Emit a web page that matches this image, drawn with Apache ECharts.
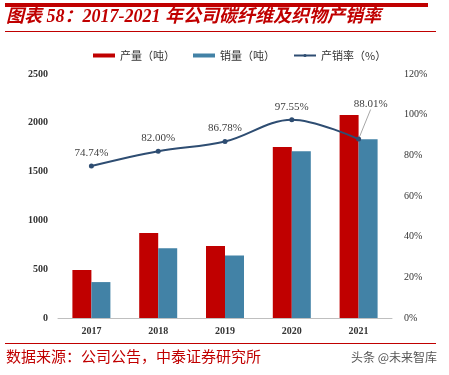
<!DOCTYPE html>
<html>
<head>
<meta charset="utf-8">
<script src="https://cdn.jsdelivr.net/npm/echarts@6/dist/echarts.min.js"></script>
<style>
  html, body { margin: 0; padding: 0; background: #fff; }
  #chart { width: 449px; height: 375px; }
</style>
</head>
<body>
<div id="chart"></div>
<script>
const years = ["2017", "2018", "2019", "2020", "2021"];
const output = [492, 870, 738, 1752, 2080];
const sales = [368, 714, 640, 1709, 1831];
const rate = [74.74, 82.0, 86.78, 97.55, 88.01];
const leftTicks = [0, 500, 1000, 1500, 2000, 2500];
const rightTicks = [0, 20, 40, 60, 80, 100, 120];

const RED = "#C00000";
const BLUE = "#4282A6";
const NAVY = "#2E4D72";
const SERIF = "'Liberation Serif', 'Times New Roman', serif";
const CJK = "'Liberation Serif', 'Noto Sans CJK SC', serif";

const chart = echarts.init(document.getElementById("chart"));

// only the last point's label is pushed out with a leader line
const rateData = rate.map((v, i) =>
  i === 4 ? { value: v, labelLine: { show: true } } : v
);

chart.setOption({
  animation: false,
  grid: { left: 58, right: 57, top: 74, bottom: 57, containLabel: false },
  graphic: [
    { type: "rect", shape: { x: 5, y: 3, width: 423, height: 4 }, style: { fill: RED } },
    {
      type: "text", left: 6, top: 8,
      style: {
        text: "图表 58：2017-2021 年公司碳纤维及织物产销率",
        fill: RED, font: "italic bold 18px " + CJK
      }
    },
    { type: "rect", shape: { x: 5, y: 31, width: 431, height: 1 }, style: { fill: RED } },
    { type: "rect", shape: { x: 5, y: 343, width: 431, height: 1 }, style: { fill: RED } },
    {
      type: "text", left: 6, top: 349,
      style: { text: "数据来源：公司公告，中泰证券研究所", fill: RED, font: "15px 'Noto Sans CJK SC', serif" }
    },
    {
      type: "text", right: 12, top: 351,
      style: { text: "头条 @未来智库", fill: "#555", font: "12px 'Noto Sans CJK SC', sans-serif" }
    }
  ],
  legend: {
    top: 45,
    left: 88,
    itemGap: 18,
    itemWidth: 22,
    itemHeight: 4,
    textStyle: { fontSize: 11, color: "#333", fontFamily: "'Noto Sans CJK SC', serif" },
    data: [
      { name: "产量（吨）", icon: "rect" },
      { name: "销量（吨）", icon: "rect" },
      { name: "产销率（%）" }
    ]
  },
  xAxis: {
    type: "category",
    data: years,
    axisLine: { lineStyle: { color: "#BFBFBF" } },
    axisTick: { show: false },
    axisLabel: { fontSize: 10, fontWeight: "bold", color: "#333", fontFamily: SERIF, margin: 8 }
  },
  yAxis: [
    {
      type: "value",
      min: leftTicks[0],
      max: leftTicks[leftTicks.length - 1],
      interval: 500,
      splitLine: { show: false },
      axisLine: { show: false },
      axisTick: { show: false },
      axisLabel: {
        fontSize: 10, fontWeight: "bold", color: "#333", fontFamily: SERIF, margin: 10,
        formatter: (v) => String(v)
      }
    },
    {
      type: "value",
      min: rightTicks[0],
      max: rightTicks[rightTicks.length - 1],
      interval: 20,
      splitLine: { show: false },
      axisLine: { show: false },
      axisTick: { show: false },
      axisLabel: { fontSize: 10, color: "#333", fontFamily: SERIF, margin: 12, formatter: "{value}%" }
    }
  ],
  series: [
    {
      name: "产量（吨）",
      type: "bar",
      data: output,
      barWidth: 19,
      barGap: "0%",
      itemStyle: { color: RED }
    },
    {
      name: "销量（吨）",
      type: "bar",
      data: sales,
      barWidth: 19,
      itemStyle: { color: BLUE }
    },
    {
      name: "产销率（%）",
      type: "line",
      yAxisIndex: 1,
      smooth: 0.35,
      symbol: "circle",
      symbolSize: 5,
      lineStyle: { color: NAVY, width: 2 },
      itemStyle: { color: NAVY },
      label: {
        show: true,
        position: "top",
        distance: 5,
        fontSize: 11,
        color: "#404040",
        fontFamily: SERIF,
        formatter: (p) => p.value.toFixed(2) + "%"
      },
      labelLayout: (p) => p.dataIndex === 4 ? { dx: 12, dy: -22 } : {},
      labelLine: { show: false, lineStyle: { color: "#A6A6A6", width: 1 } },
      data: rateData
    }
  ]
});
</script>
</body>
</html>
